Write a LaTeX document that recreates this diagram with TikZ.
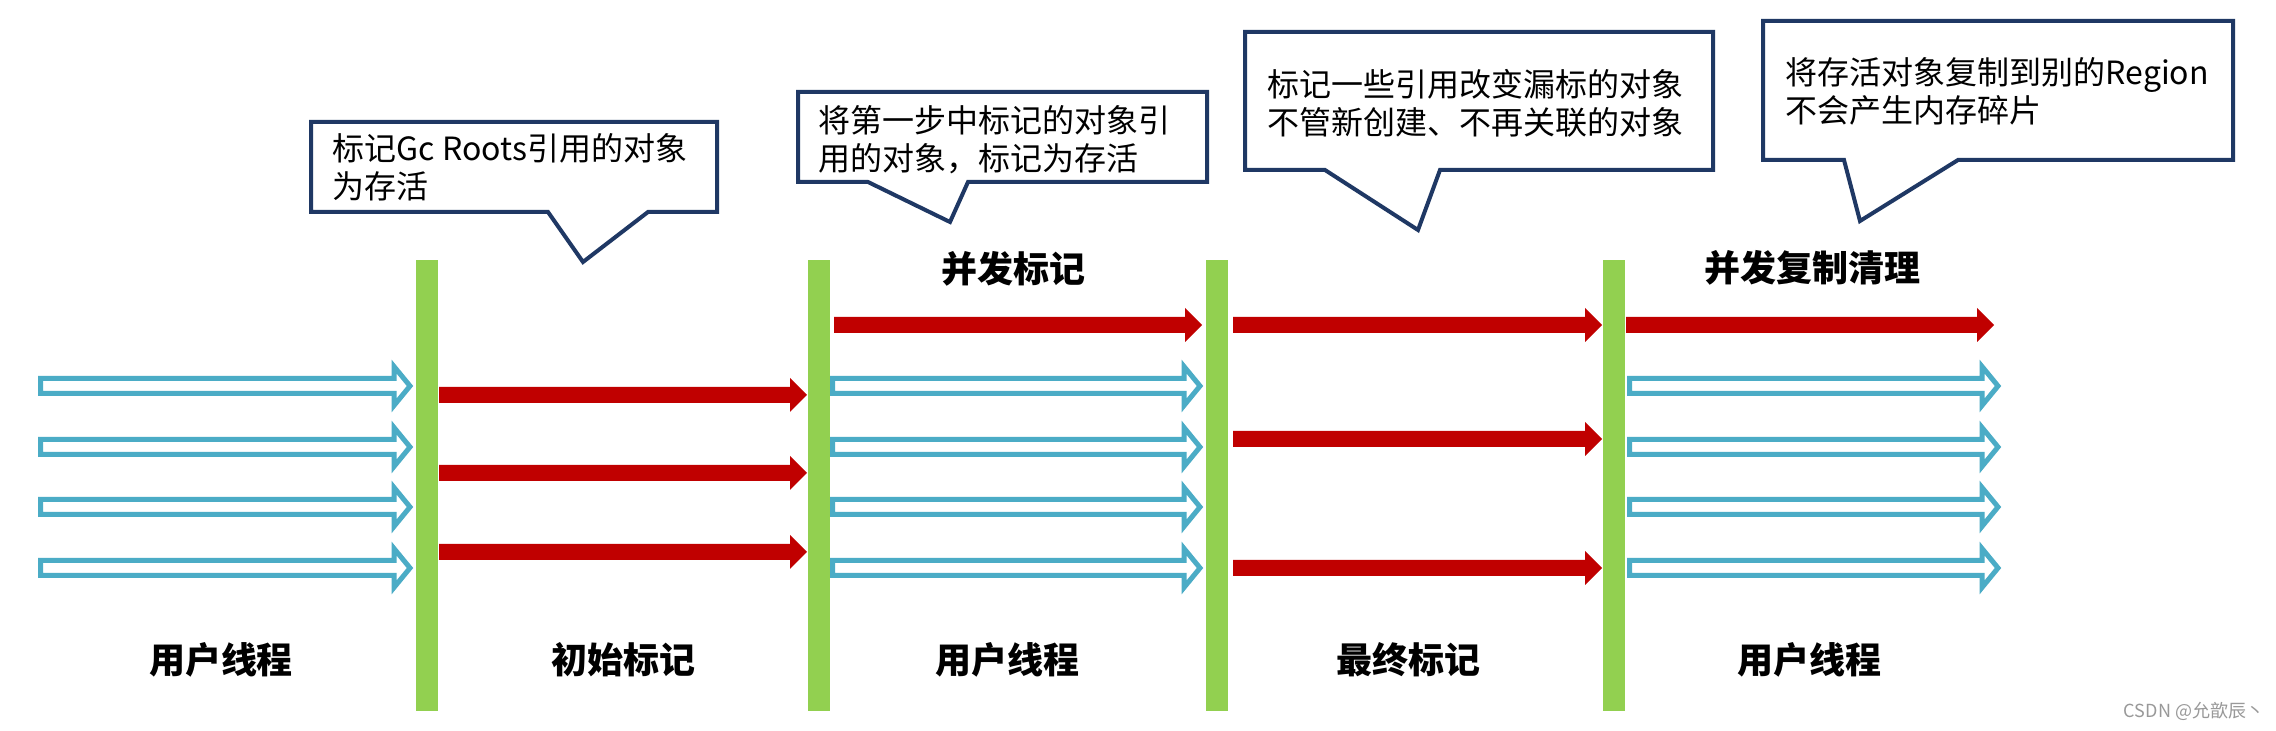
\documentclass[tikz,border=0pt]{standalone}
\usepackage{fontspec}
\setmainfont{Noto Sans CJK SC}
\definecolor{barg}{HTML}{92D050}
\definecolor{redc}{HTML}{C00000}
\definecolor{bluec}{HTML}{4BACC6}
\definecolor{calloutc}{HTML}{1F3864}
\tikzset{
  bar/.style={rectangle, fill=barg, inner sep=0pt, minimum width=6.6pt, minimum height=135.3pt},
  redarrow/.style={fill=redc},
  bluearrow/.style={draw=bluec, fill=white, line width=1.5pt, line join=miter},
  callout/.style={draw=calloutc, fill=white, line width=1.2pt, line join=miter},
  callouttext/.style={anchor=west, align=left, inner sep=0pt, font=\fontsize{9.6}{11.4}\selectfont},
  phase/.style={inner sep=0pt, font=\fontsize{10.8}{12}\selectfont\bfseries},
  wm/.style={inner sep=0pt, text=gray!80, font=\fontsize{5.4}{6}\selectfont}
}
\newcommand\RedArr[3]{\path[redarrow] (#1,#3-8) -- (#2-17,#3-8) -- (#2-17,#3-17) -- (#2,#3) -- (#2-17,#3+17) -- (#2-17,#3+8) -- (#1,#3+8) -- cycle;}
\newcommand\BlueArr[3]{\path[bluearrow] (#1+2.5,#3-7.5) -- (#2-19,#3-7.5) -- (#2-19,#3-19.5) -- (#2-3,#3) -- (#2-19,#3+19.5) -- (#2-19,#3+7.5) -- (#1+2.5,#3+7.5) -- cycle;}
\newcommand\Callout[8]{\path[callout] (#1,#3) -- (#2,#3) -- (#2,#4) -- (#6,#4) -- (#7,#8) -- (#5,#4) -- (#1,#4) -- cycle;}
\begin{document}
\begin{tikzpicture}[x=0.3pt,y=-0.3pt]
\fill[white] (0,0) rectangle (2276,731);
\useasboundingbox (0,0) rectangle (2276,731);

% callouts: L R T B base1 base2 tipx tipy
\Callout{311}{717}{122}{212}{548}{648}{583}{262}
\node[callouttext] (t1) at (332,167.5) {标记Gc Roots引用的对象\\为存活};
\Callout{798}{1207}{92}{182}{868}{968}{950}{222}
\node[callouttext] (t2) at (818,140) {将第一步中标记的对象引\\用的对象，标记为存活};
\Callout{1245}{1713}{32}{170}{1325}{1440}{1418}{230}
\node[callouttext] (t4) at (1267,103) {标记一些引用改变漏标的对象\\不管新创建、不再关联的对象};
\Callout{1763}{2233}{21}{160}{1844}{1958}{1860}{221}
\node[callouttext] (t5) at (1785,91.5) {将存活对象复制到别的Region\\不会产生内存碎片};

% bars
\node[bar] (b1) at (427,485.5) {};
\node[bar] (b2) at (819,485.5) {};
\node[bar] (b3) at (1216.5,485.5) {};
\node[bar] (b4) at (1614,485.5) {};

% section 1
\foreach \y in {386,447,507,568} {\BlueArr{38}{413}{\y}}
% section 2
\foreach \y in {395,473,552} {\RedArr{439}{807}{\y}}
% section 3
\RedArr{834}{1202}{325}
\foreach \y in {386,447,507,568} {\BlueArr{830}{1203}{\y}}
% section 4
\foreach \y in {325,439,568} {\RedArr{1233}{1602}{\y}}
% section 5
\RedArr{1626}{1994}{325}
\foreach \y in {386,447,507,568} {\BlueArr{1627}{2001}{\y}}

% phase titles
\node[phase] (p3) at (1013,269) {并发标记};
\node[phase] (p5) at (1812,268) {并发复制清理};
\node[phase] (l1) at (221,660) {用户线程};
\node[phase] (l2) at (623,660) {初始标记};
\node[phase] (l3) at (1007,660) {用户线程};
\node[phase] (l4) at (1408,660) {最终标记};
\node[phase] (l5) at (1809,660) {用户线程};

\node[wm] (w) at (2194,711) {CSDN @允歆辰丶};
\end{tikzpicture}
\end{document}
